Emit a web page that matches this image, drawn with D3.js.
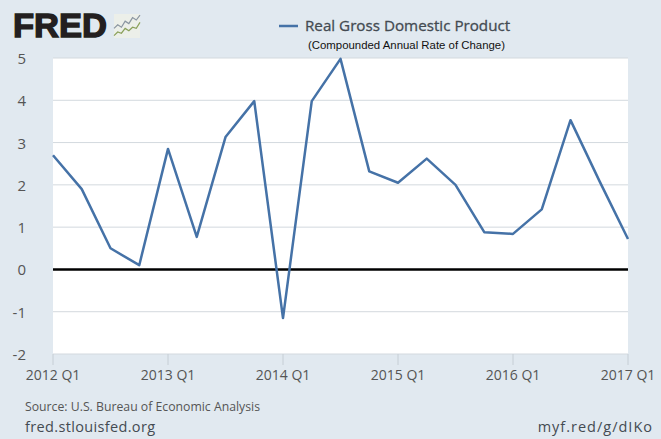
<!DOCTYPE html>
<html>
<head>
<meta charset="utf-8">
<script src="https://cdnjs.cloudflare.com/ajax/libs/d3/7.8.5/d3.min.js"></script>
<style>
  html, body { margin: 0; padding: 0; background: #e1e9f0; }
  svg { display: block; }
  text { font-family: "Open Sans", sans-serif; }
</style>
</head>
<body>
<div id="chart"></div>
<script>
// Quarterly values
const quarters = [
    "2012 Q1", "2012 Q2", "2012 Q3", "2012 Q4",
    "2013 Q1", "2013 Q2", "2013 Q3", "2013 Q4",
    "2014 Q1", "2014 Q2", "2014 Q3", "2014 Q4",
    "2015 Q1", "2015 Q2", "2015 Q3", "2015 Q4",
    "2016 Q1", "2016 Q2", "2016 Q3", "2016 Q4",
    "2017 Q1"
];
const gdpChange = [
    2.7, 1.9, 0.5, 0.1,
    2.85, 0.77, 3.13, 3.98,
    -1.15, 3.98, 4.98, 2.32,
    2.05, 2.62, 2.0, 0.88,
    0.84, 1.42, 3.53, 2.1,
    0.72
];
const yTicks = [-2, -1, 0, 1, 2, 3, 4, 5];
const xTicks = ["2012 Q1", "2013 Q1", "2014 Q1", "2015 Q1", "2016 Q1", "2017 Q1"];

// Logo sparklines, in the logo's own 0-10 units
const logoGrey = [6, 4.5, 5.5, 3, 4, 1.5, 2.5, 0.5];
const logoGreen = [9, 7.5, 8, 6, 7, 5.5, 6, 3.5];

const width = 661;
const height = 439;
const plotLeft = 53, plotRight = 628, plotTop = 58, plotBottom = 354;

const svg = d3.select("#chart")
    .append("svg")
    .attr("width", width)
    .attr("height", height)
    .attr("viewBox", [0, 0, width, height]);

const x = d3.scalePoint().domain(quarters).range([plotLeft, plotRight]);
const y = d3.scaleLinear().domain([-2, 5]).range([plotBottom, plotTop]);

// Plot background
svg.append("rect")
    .attr("x", plotLeft)
    .attr("y", plotTop)
    .attr("width", plotRight - plotLeft)
    .attr("height", plotBottom - plotTop)
    .attr("fill", "#fff");

// Grid lines
svg.append("g")
    .selectAll("line")
    .data(yTicks)
    .join("line")
    .attr("x1", plotLeft)
    .attr("x2", plotRight)
    .attr("y1", d => y(d))
    .attr("y2", d => y(d))
    .attr("stroke", "#d3d9de")
    .attr("stroke-width", 1);

// Y labels
svg.append("g")
    .selectAll("text")
    .data(yTicks)
    .join("text")
    .attr("x", 26)
    .attr("y", d => y(d) + 6)
    .attr("text-anchor", "end")
    .attr("font-size", 15)
    .attr("fill", "#555")
    .text(d => d);

// X ticks and labels
svg.append("g")
    .selectAll("line")
    .data(xTicks)
    .join("line")
    .attr("x1", d => x(d))
    .attr("x2", d => x(d))
    .attr("y1", plotBottom)
    .attr("y2", plotBottom + 11)
    .attr("stroke", "#c6ced5");

svg.append("g")
    .selectAll("text")
    .data(xTicks)
    .join("text")
    .attr("x", d => x(d))
    .attr("y", 380)
    .attr("text-anchor", "middle")
    .attr("font-size", 14)
    .attr("fill", "#555")
    .text(d => d);

// Zero line
svg.append("line")
    .attr("x1", plotLeft)
    .attr("x2", plotRight)
    .attr("y1", y(0))
    .attr("y2", y(0))
    .attr("stroke", "#000")
    .attr("stroke-width", 2.5);

// Series
const line = d3.line()
    .x((d, i) => x(quarters[i]))
    .y(d => y(d));

svg.append("path")
    .datum(gdpChange)
    .attr("d", line)
    .attr("fill", "none")
    .attr("stroke", "#4572a7")
    .attr("stroke-width", 2.5)
    .attr("stroke-linejoin", "round");

// Legend
svg.append("line")
    .attr("x1", 279)
    .attr("x2", 298)
    .attr("y1", 26)
    .attr("y2", 26)
    .attr("stroke", "#4572a7")
    .attr("stroke-width", 2.5);

svg.append("text")
    .attr("x", 305)
    .attr("y", 31)
    .attr("font-size", 15.2)
    .attr("fill", "#444b52")
    .attr("stroke", "#444b52")
    .attr("stroke-width", 0.3)
    .text("Real Gross Domestic Product");

svg.append("text")
    .attr("x", 308)
    .attr("y", 49)
    .attr("font-size", 11.4)
    .attr("fill", "#111")
    .style("font-family", "'Liberation Sans', sans-serif")
    .text("(Compounded Annual Rate of Change)");

// FRED logo
svg.append("text")
    .attr("x", 13)
    .attr("y", 37)
    .attr("font-size", 34)
    .attr("font-weight", 700)
    .attr("fill", "#231f20")
    .attr("stroke", "#231f20")
    .attr("stroke-width", 1.4)
    .attr("textLength", 94)
    .attr("lengthAdjust", "spacingAndGlyphs")
    .style("font-family", "'Liberation Sans', sans-serif")
    .text("FRED");

svg.append("rect")
    .attr("x", 114)
    .attr("y", 14)
    .attr("width", 26)
    .attr("height", 24)
    .attr("fill", "#ecefe9");

const logoX = d3.scaleLinear().domain([0, logoGrey.length - 1]).range([114, 140]);
const logoY = d3.scaleLinear().domain([0, 10]).range([14, 38]);
const logoLine = d3.line().x((d, i) => logoX(i)).y(d => logoY(d));

svg.append("path")
    .datum(logoGrey)
    .attr("d", logoLine)
    .attr("fill", "none")
    .attr("stroke", "#8a95a0")
    .attr("stroke-width", 1.2);

svg.append("path")
    .datum(logoGreen)
    .attr("d", logoLine)
    .attr("fill", "none")
    .attr("stroke", "#8aa05a")
    .attr("stroke-width", 1.2);

// Footer
svg.append("text")
    .attr("x", 25)
    .attr("y", 411)
    .attr("font-size", 12.25)
    .attr("fill", "#555")
    .text("Source: U.S. Bureau of Economic Analysis");

svg.append("text")
    .attr("x", 25)
    .attr("y", 432)
    .attr("font-size", 14.5)
    .attr("fill", "#444b52")
    .attr("letter-spacing", 0.35)
    .text("fred.stlouisfed.org");

svg.append("text")
    .attr("x", 653)
    .attr("y", 432)
    .attr("text-anchor", "end")
    .attr("font-size", 14.5)
    .attr("fill", "#444b52")
    .attr("letter-spacing", 1)
    .text("myf.red/g/dIKo");
</script>
</body>
</html>
